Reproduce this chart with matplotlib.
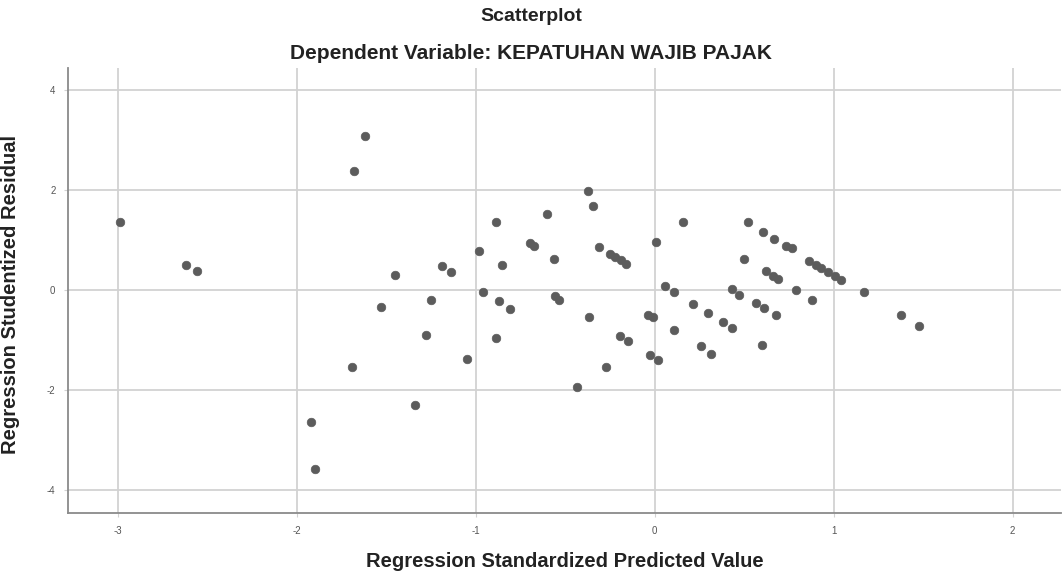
import matplotlib
matplotlib.use("Agg")
import matplotlib.pyplot as plt

#Regression standardized predicted value (x) and studentized residual (y)
pred = [-2.99, -2.62, -2.56,
        -1.62, -1.68,
        -1.92, -1.90,
        -1.69, -1.45, -1.53, -1.34, -1.28, -1.25, -1.19, -1.14,
        -1.05, -0.98, -0.96, -0.89, -0.87, -0.855, -0.89, -0.81,
        -0.70, -0.675, -0.60, -0.565, -0.558, -0.534,
        -0.435, -0.375, -0.344, -0.366, -0.314, -0.25, -0.22, -0.19, -0.16,
        -0.273, -0.195, -0.149,
        0.004, -0.037, -0.009, -0.028, 0.018, 0.056, 0.108, 0.158, 0.108,
        0.214, 0.297, 0.381, 0.433, 0.26, 0.316,
        0.43, 0.47, 0.498, 0.52, 0.604, 0.669, 0.734, 0.766,
        0.623, 0.66, 0.688, 0.567, 0.608, 0.675, 0.598,
        0.79, 0.88, 0.864, 0.90, 0.93, 0.97, 1.005, 1.04,
        1.17, 1.376, 1.478]
resid = [1.35, 0.49, 0.37,
         3.08, 2.37,
         -2.63, -3.58,
         -1.53, 0.30, -0.35, -2.30, -0.90, -0.20, 0.47, 0.35,
         -1.37, 0.77, -0.05, 1.35, -0.23, 0.49, -0.97, -0.38,
         0.93, 0.87, 1.52, 0.62, -0.13, -0.20,
         -1.93, 1.97, 1.67, -0.55, 0.85, 0.71, 0.65, 0.60, 0.52,
         -1.54, -0.93, -1.02,
         0.95, -0.51, -0.55, -1.30, -1.40, 0.07, -0.05, 1.35, -0.81,
         -0.29, -0.47, -0.65, -0.77, -1.13, -1.27,
         0.02, -0.10, 0.61, 1.35, 1.15, 1.02, 0.88, 0.83,
         0.37, 0.28, 0.21, -0.27, -0.37, -0.51, -1.11,
         0.00, -0.20, 0.58, 0.50, 0.43, 0.35, 0.28, 0.20,
         -0.05, -0.50, -0.72]

x_ticks = [-3, -2, -1, 0, 1, 2]
y_ticks = [-4, -2, 0, 2, 4]

plt.rcParams['font.family'] = ['Liberation Sans', 'DejaVu Sans']
plt.rcParams['axes.unicode_minus'] = False

fig = plt.figure(figsize=(10.62, 5.74), dpi=100)
ax = fig.add_axes([0.064, 0.106, 0.935, 0.776])

ax.scatter(pred, resid, s=38, color="#5c5c5c", edgecolors="#5c5c5c", linewidths=0.5, zorder=3)

ax.set_xlim(-3.28, 2.27)
ax.set_ylim(-4.46, 4.44)
ax.set_xticks(x_ticks)
ax.set_yticks(y_ticks)
ax.grid(True, color="#d2d2d2", linewidth=1.3)
ax.set_axisbelow(True)

#Only left and bottom axis lines, like SPSS
ax.spines['top'].set_visible(False)
ax.spines['right'].set_visible(False)
ax.spines['left'].set_color("#8a8a8a")
ax.spines['bottom'].set_color("#8a8a8a")
ax.spines['left'].set_linewidth(1.3)
ax.spines['bottom'].set_linewidth(1.3)
ax.tick_params(axis='both', labelsize=7, colors="#d2d2d2", labelcolor="#555555", length=3, pad=6)

ax.set_xlabel("Regression Standardized Predicted Value", fontsize=14.5, fontweight="bold", color="#222222", labelpad=12)
ax.set_ylabel("Regression Studentized Residual", fontsize=14.5, fontweight="bold", color="#222222")
#put the y label about 20px from the left edge
ax.yaxis.set_label_coords(-0.048, 0.49)

fig.text(0.5, 0.972, "Scatterplot", ha="center", va="center", fontsize=14, fontweight="bold", color="#222222")
fig.text(0.5, 0.906, "Dependent Variable: KEPATUHAN WAJIB PAJAK", ha="center", va="center", fontsize=15, fontweight="bold", color="#222222")

fig.savefig("out.png", dpi=100)
